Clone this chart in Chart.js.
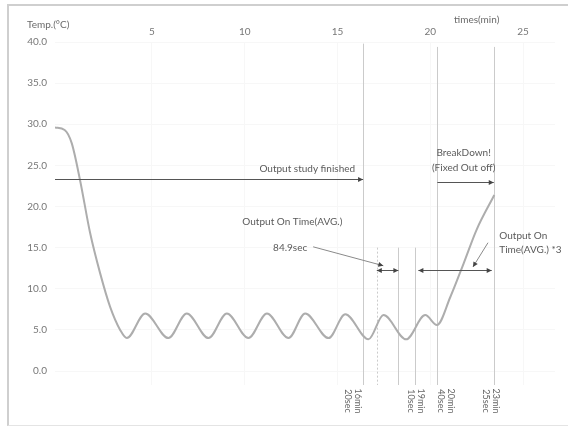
<!DOCTYPE html>
<html>
<head>
<meta charset="utf-8">
<script src="https://cdn.jsdelivr.net/npm/chart.js@4.4.0/dist/chart.umd.min.js"></script>
<style>
html,body{margin:0;padding:0;background:#fff;}
#wrap{position:relative;width:568px;height:429px;overflow:hidden;}
#frame{position:absolute;left:7px;top:4px;width:570px;height:419px;border-left:2px solid #cfcfcf;border-top:2px solid #cfcfcf;border-bottom:1px solid #e4e4e4;pointer-events:none;}
</style>
</head>
<body>
<div id="wrap"><canvas id="line-chart" width="568" height="429"></canvas><div id="frame"></div></div>
<script>
// temperature curve (minutes, °C)
var timeMin = [-0.22, 0.3, 0.68, 1.13, 1.67, 2.21, 2.75, 3.29, 3.65, 4.64, 5.89, 6.88, 8.05, 9.04, 10.2, 11.2, 12.36, 13.26, 14.52, 15.42, 16.67, 17.48, 18.7, 19.73, 20.36, 21.08, 21.8, 22.5, 23.45];
var tempC   = [29.6, 29.3, 27.7, 23.2, 16.8, 11.9, 7.8, 5.0, 4.0, 7.0, 4.0, 7.0, 4.0, 7.0, 4.0, 7.0, 4.0, 7.0, 4.0, 6.9, 3.85, 6.8, 3.85, 6.8, 5.6, 9.0, 13.1, 17.2, 21.4];

var xTicks = [5, 10, 15, 20, 25];
var yTicks = [0, 5, 10, 15, 20, 25, 30, 35, 40];

// vertical marker lines
var markX    = [16.38, 17.12, 18.28, 19.15, 20.38, 23.42];
var markTop  = [39.8, 15.0, 15.0, 15.0, 39.4, 39.4];
var markDash = [false, true, false, false, false, false];

// bottom labels (two lines, rotated)
var markLabelX = [15.84, 19.24, 20.85, 23.28];
var markLabels = [["16min", "20sec"], ["19min", "10sec"], ["20min", "40sec"], ["23min", "25sec"]];

// arrows: [x from, x to, y, both heads]
var hArrows = [
  [-0.22, 16.38, 23.3, false],
  [20.38, 23.42, 23.0, false],
  [17.12, 18.28, 12.3, true],
  [19.36, 23.31, 12.3, true]
];
// leader lines: [x1, y1, x2, y2]
var leaders = [
  [13.69, 15.1, 17.47, 12.8],
  [23.11, 15.6, 22.3, 12.65]
];
// notes: [text, x, y, align]
var notes = [
  ["Output study finished", 15.95, 24.55, "right"],
  ["BreakDown!", 21.8, 26.5, "center"],
  ["(Fixed Out off)", 21.8, 24.7, "center"],
  ["Output On Time(AVG.)", 12.57, 18.1, "center"],
  ["84.9sec", 12.45, 15.0, "center"],
  ["Output On", 23.72, 16.4, "left"],
  ["Time(AVG.) *3", 23.72, 14.7, "left"]
];

var FONT = "Lato, 'Open Sans', sans-serif";

function arrowHead(ctx, x, y, ang) {
  ctx.save();
  ctx.translate(x, y);
  ctx.rotate(ang);
  ctx.beginPath();
  ctx.moveTo(0, 0);
  ctx.lineTo(-5, -2.5);
  ctx.lineTo(-5, 2.5);
  ctx.closePath();
  ctx.fill();
  ctx.restore();
}

var annot = {
  id: 'annot',
  beforeDatasetsDraw: function(chart) {
    var ctx = chart.ctx, x = chart.scales.x, y = chart.scales.y;
    ctx.save();
    ctx.strokeStyle = '#cbcbcb';
    ctx.lineWidth = 1;
    markX.forEach(function(m, i) {
      var px = Math.round(x.getPixelForValue(m)) + 0.5;
      ctx.setLineDash(markDash[i] ? [2, 2] : []);
      ctx.beginPath();
      ctx.moveTo(px, y.getPixelForValue(markTop[i]));
      ctx.lineTo(px, y.getPixelForValue(y.min));
      ctx.stroke();
    });
    ctx.restore();
  },
  afterDatasetsDraw: function(chart) {
    var ctx = chart.ctx, x = chart.scales.x, y = chart.scales.y;
    ctx.save();
    ctx.strokeStyle = '#555';
    ctx.fillStyle = '#444';
    ctx.lineWidth = 1;
    hArrows.forEach(function(a) {
      var x1 = x.getPixelForValue(a[0]), x2 = x.getPixelForValue(a[1]);
      var py = Math.round(y.getPixelForValue(a[2])) + 0.5;
      ctx.beginPath(); ctx.moveTo(x1, py); ctx.lineTo(x2, py); ctx.stroke();
      arrowHead(ctx, x2, py, 0);
      if (a[3]) arrowHead(ctx, x1, py, Math.PI);
    });
    ctx.strokeStyle = '#8a8a8a';
    leaders.forEach(function(l) {
      var x1 = x.getPixelForValue(l[0]), y1 = y.getPixelForValue(l[1]);
      var x2 = x.getPixelForValue(l[2]), y2 = y.getPixelForValue(l[3]);
      ctx.beginPath(); ctx.moveTo(x1, y1); ctx.lineTo(x2, y2); ctx.stroke();
      arrowHead(ctx, x2, y2, Math.atan2(y2 - y1, x2 - x1));
    });
    ctx.fillStyle = '#5a5a5a';
    ctx.font = '10px ' + FONT;
    ctx.textBaseline = 'middle';
    notes.forEach(function(n) {
      ctx.textAlign = n[3];
      ctx.fillText(n[0], x.getPixelForValue(n[1]), y.getPixelForValue(n[2]));
    });
    ctx.restore();
  },
  afterDraw: function(chart) {
    var ctx = chart.ctx, x = chart.scales.x;
    ctx.save();
    ctx.fillStyle = '#6a6a6a';
    ctx.font = '10px ' + FONT;
    ctx.textBaseline = 'middle';
    ctx.textAlign = 'left';
    ctx.fillText('Temp.(\u00b0C)', 27, 25);
    ctx.textAlign = 'center';
    ctx.fillText('times(min)', x.getPixelForValue(22.5), 20);
    ctx.font = '9px ' + FONT;
    ctx.fillStyle = '#666';
    markLabelX.forEach(function(m, i) {
      ctx.save();
      ctx.translate(x.getPixelForValue(m), 401);
      ctx.rotate(Math.PI / 2);
      ctx.fillText(markLabels[i][0], 0, -5);
      ctx.fillText(markLabels[i][1], 0, 5);
      ctx.restore();
    });
    ctx.restore();
  }
};

var chart = new Chart(document.getElementById("line-chart"), {
  type: 'line',
  data: {
    datasets: [{
      data: timeMin.map(function(t, i) { return { x: t, y: tempC[i] }; }),
      borderColor: '#adadad',
      borderWidth: 2,
      pointRadius: 0,
      fill: false,
      cubicInterpolationMode: 'monotone'
    }]
  },
  options: {
    responsive: false,
    animation: false,
    devicePixelRatio: 1,
    layout: { padding: { left: 0, right: 13, top: 0, bottom: 44 } },
    plugins: {
      legend: { display: false },
      tooltip: { enabled: false }
    },
    scales: {
      x: {
        type: 'linear',
        position: 'top',
        min: -0.22,
        max: 26.72,
        grid: { color: '#f7f7f7', drawTicks: false },
        border: { display: false },
        ticks: { padding: 4, color: '#777', font: { family: FONT, size: 10 } },
        afterBuildTicks: function(s) { s.ticks = xTicks.map(function(v) { return { value: v }; }); },
        afterFit: function(s) { s.height = 42; }
      },
      y: {
        min: -1.7,
        max: 40,
        grid: { color: '#f7f7f7', drawTicks: false },
        border: { display: false },
        ticks: {
          padding: 8, color: '#777', font: { family: FONT, size: 10 },
          callback: function(v) { return v.toFixed(1); }
        },
        afterBuildTicks: function(s) { s.ticks = yTicks.map(function(v) { return { value: v }; }); },
        afterFit: function(s) { s.width = 55; }
      }
    }
  },
  plugins: [annot]
});
</script>
</body>
</html>
